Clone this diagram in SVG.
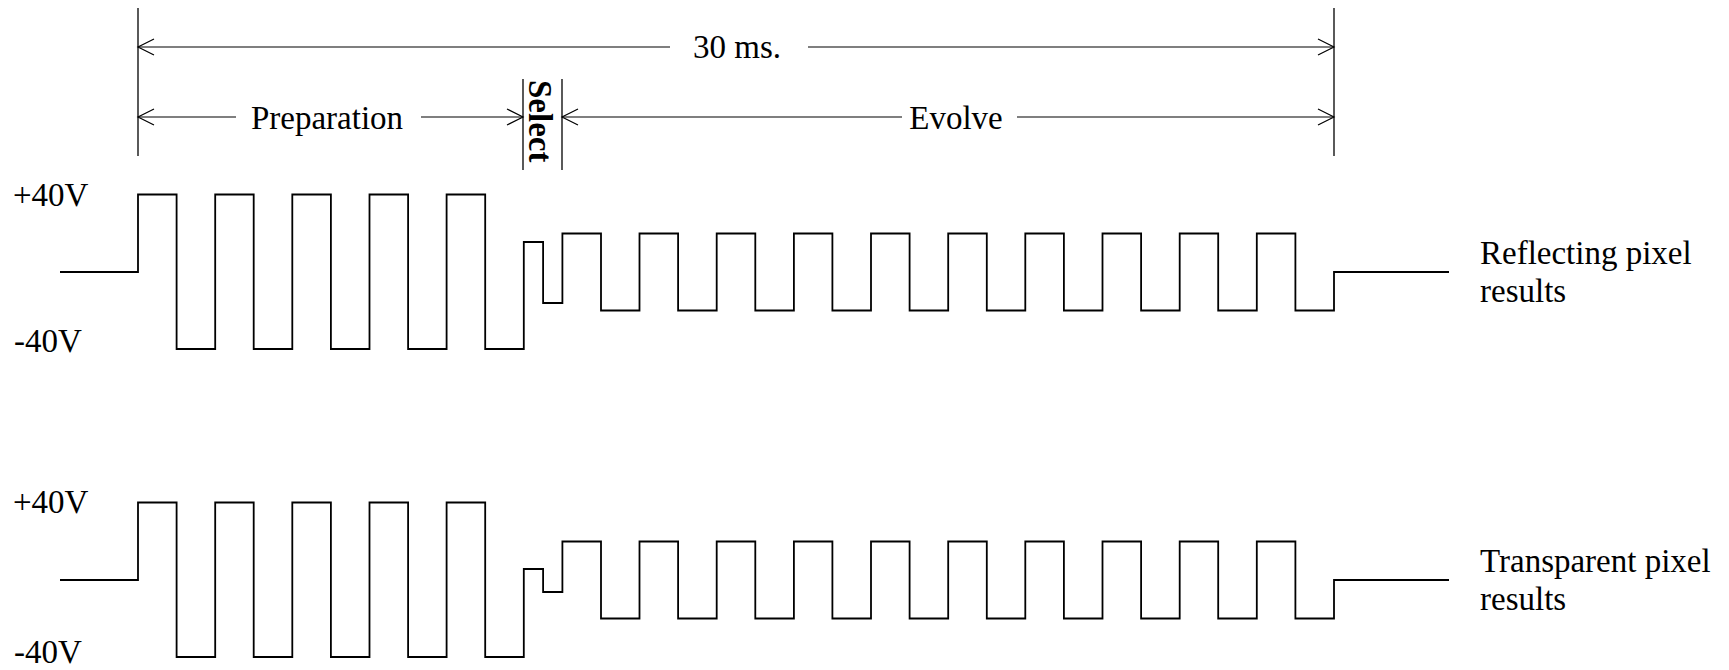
<svg xmlns="http://www.w3.org/2000/svg" width="1729" height="670" viewBox="0 0 1729 670">
<style>
  text { font-family: "Liberation Serif", "Times New Roman", serif; font-size: 33px; fill: #000; }
  .dim { stroke: #000; stroke-width: 1.2; fill: none; }
  .ext { stroke: #000; stroke-width: 1.3; fill: none; }
  .wave { stroke: #000; stroke-width: 1.8; fill: none; stroke-linejoin: miter; }
  .mid { text-anchor: middle; }
</style>
<defs>
  <marker id="arr" markerUnits="userSpaceOnUse" markerWidth="20" markerHeight="20" viewBox="-18 -10 20 20" refX="0" refY="0" orient="auto-start-reverse">
    <path d="M-16,-8 L0,0 L-16,8" fill="none" stroke="#000" stroke-width="1.2"/>
  </marker>
</defs>
<rect width="1729" height="670" fill="#fff"/>

<g id="connectors">
  <line class="ext" x1="138" y1="8" x2="138" y2="156"/>
  <line class="ext" x1="1334" y1="8" x2="1334" y2="156"/>
  <line class="ext" x1="523" y1="79" x2="523" y2="170"/>
  <line class="ext" x1="562" y1="79" x2="562" y2="170"/>
  <line class="dim" x1="670" y1="47" x2="138" y2="47" marker-end="url(#arr)"/>
  <line class="dim" x1="808" y1="47" x2="1334" y2="47" marker-end="url(#arr)"/>
  <line class="dim" x1="236" y1="117" x2="138" y2="117" marker-end="url(#arr)"/>
  <line class="dim" x1="421" y1="117" x2="523" y2="117" marker-end="url(#arr)"/>
  <line class="dim" x1="902" y1="117" x2="562" y2="117" marker-end="url(#arr)"/>
  <line class="dim" x1="1017" y1="117" x2="1334" y2="117" marker-end="url(#arr)"/>
</g>

<g id="labels-timing">
  <text class="mid" x="737" y="58">30 ms.</text>
  <text class="mid" x="327" y="129">Preparation</text>
  <text class="mid" x="956" y="129">Evolve</text>
  <text x="0" y="0" font-weight="bold" font-size="34" transform="translate(529,80) rotate(90)">Select</text>
</g>

<g id="waveform-reflecting">
  <path class="wave" d="M60,272 H138 V194.5 H176.6 V349 H215.2 V194.5 H253.7 V349 H292.3 V194.5 H330.9 V349 H369.5 V194.5 H408.1 V349 H446.6 V194.5 H485.2 V349 H523.8 V242 H543.1 V303 H562.4 V233.5 H601 V310.5 H639.5 V233.5 H678.1 V310.5 H716.7 V233.5 H755.3 V310.5 H793.9 V233.5 H832.4 V310.5 H871 V233.5 H909.6 V310.5 H948.2 V233.5 H986.8 V310.5 H1025.3 V233.5 H1063.9 V310.5 H1102.5 V233.5 H1141.1 V310.5 H1179.7 V233.5 H1218.2 V310.5 H1256.8 V233.5 H1295.4 V310.5 H1334 V272 H1449"/>
  <text x="13" y="206">+40V</text>
  <text x="14" y="352">-40V</text>
  <text x="1480" y="264">Reflecting pixel</text>
  <text x="1480" y="302">results</text>
</g>

<g id="waveform-transparent">
  <path class="wave" d="M60,580 H138 V502.5 H176.6 V657 H215.2 V502.5 H253.7 V657 H292.3 V502.5 H330.9 V657 H369.5 V502.5 H408.1 V657 H446.6 V502.5 H485.2 V657 H523.8 V569 H543.1 V592 H562.4 V541.5 H601 V618.5 H639.5 V541.5 H678.1 V618.5 H716.7 V541.5 H755.3 V618.5 H793.9 V541.5 H832.4 V618.5 H871 V541.5 H909.6 V618.5 H948.2 V541.5 H986.8 V618.5 H1025.3 V541.5 H1063.9 V618.5 H1102.5 V541.5 H1141.1 V618.5 H1179.7 V541.5 H1218.2 V618.5 H1256.8 V541.5 H1295.4 V618.5 H1334 V580 H1449"/>
  <text x="13" y="513">+40V</text>
  <text x="14" y="663">-40V</text>
  <text x="1480" y="572">Transparent pixel</text>
  <text x="1480" y="610">results</text>
</g>
</svg>
